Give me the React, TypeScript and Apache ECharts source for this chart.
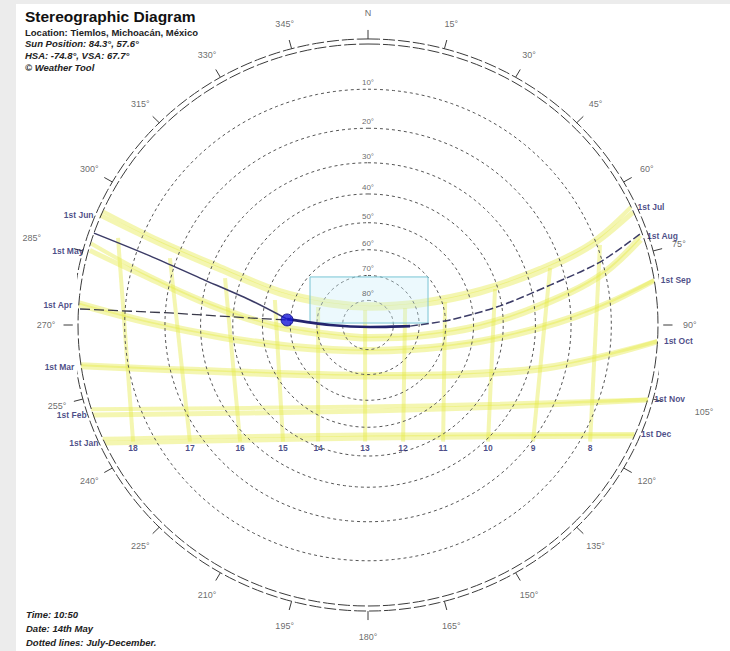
import React, { useEffect, useRef } from "react";
import * as echarts from "echarts";

// ---- data (diagram units: horizon radius = 1, north up, east right) ----
const altitudes = [10, 20, 30, 40, 50, 60, 70, 80];
const azimuths = [0, 15, 30, 45, 60, 75, 90, 105, 120, 135, 150, 165, 180, 195, 210, 225, 240, 255, 270, 285, 300, 315, 330, 345];
const azimuthLabels = ["N", "15°", "30°", "45°", "60°", "75°", "90°", "105°", "120°", "135°", "150°", "165°", "180°", "195°", "210°", "225°", "240°", "255°", "270°", "285°", "300°", "315°", "330°", "345°"];

// sun-path date lines (x, y)
const janPath = [[-0.907, -0.42], [0.007, -0.402], [0.917, -0.395]];
const febPath = [[-0.948, -0.32], [-0.407, -0.313], [0.007, -0.306], [0.455, -0.292], [0.966, -0.267]];
const marPath = [[-0.99, -0.149], [-0.579, -0.167], [0.007, -0.185], [0.593, -0.16], [0.997, -0.06]];
const aprPath = [[-0.997, 0.071], [-0.752, 0.004], [-0.51, -0.046], [-0.269, -0.082], [0.007, -0.096], [0.283, -0.078], [0.524, -0.032], [0.766, 0.046], [0.986, 0.157]];
const mayPath = [[-0.959, 0.265], [-0.752, 0.164], [-0.545, 0.068], [-0.338, -0.004], [-0.131, -0.039], [0.007, -0.05], [0.179, -0.043], [0.386, -0.007], [0.593, 0.064], [0.8, 0.171], [0.941, 0.302]];
const junPath = [[-0.924, 0.391], [-0.717, 0.288], [-0.51, 0.196], [-0.303, 0.11], [-0.131, 0.071], [0.007, 0.06], [0.179, 0.071], [0.386, 0.114], [0.593, 0.189], [0.766, 0.278], [0.914, 0.402]];
const julPath = [[-0.915, 0.405], [-0.717, 0.302], [-0.51, 0.21], [-0.303, 0.124], [-0.131, 0.085], [0.007, 0.074], [0.179, 0.085], [0.386, 0.128], [0.593, 0.203], [0.766, 0.292], [0.907, 0.42]];
const augPath = [[-0.955, 0.29], [-0.752, 0.175], [-0.545, 0.079], [-0.338, 0.007], [-0.131, -0.028], [0.007, -0.039], [0.179, -0.032], [0.386, 0.004], [0.593, 0.075], [0.8, 0.182], [0.94, 0.318]];
const sepPath = [[-0.995, 0.08], [-0.752, 0.014], [-0.51, -0.036], [-0.269, -0.07], [0.007, -0.085], [0.283, -0.068], [0.524, -0.022], [0.766, 0.056], [0.987, 0.16]];
const octPath = [[-0.99, -0.14], [-0.579, -0.157], [0.007, -0.174], [0.593, -0.149], [0.998, -0.057]];
const novPath = [[-0.955, -0.3], [-0.407, -0.295], [0.007, -0.29], [0.455, -0.28], [0.965, -0.265]];
const decPath = [[-0.915, -0.405], [0.007, -0.39], [0.919, -0.388]];
const dateNames = ["1st Jan", "1st Feb", "1st Mar", "1st Apr", "1st May", "1st Jun", "1st Jul", "1st Aug", "1st Sep", "1st Oct", "1st Nov", "1st Dec"];
const datePaths = [janPath, febPath, marPath, aprPath, mayPath, junPath, julPath, augPath, sepPath, octPath, novPath, decPath];

// hour lines
const hourLabels = ["18", "17", "16", "15", "14", "13", "12", "11", "10", "9", "8"];
const hourTop = [[-0.862, 0.31], [-0.683, 0.238], [-0.493, 0.167], [-0.321, 0.089], [-0.172, 0.064], [-0.01, 0.053], [0.128, 0.06], [0.266, 0.082], [0.438, 0.128], [0.628, 0.203], [0.8, 0.285]];
const hourBottom = [[-0.81, -0.415], [-0.614, -0.415], [-0.441, -0.415], [-0.293, -0.415], [-0.172, -0.415], [-0.01, -0.415], [0.121, -0.415], [0.259, -0.415], [0.414, -0.415], [0.569, -0.415], [0.766, -0.415]];

// current day path (14th May)
const todayBefore = [[-0.945, 0.327], [-0.752, 0.246], [-0.579, 0.167], [-0.407, 0.089], [-0.279, 0.021]];
const todayNoon = [[-0.279, 0.021], [-0.131, 0.0], [0.007, -0.007], [0.145, -0.004]];
const todayAfter = [[0.145, -0.004], [0.283, 0.018], [0.455, 0.068], [0.628, 0.142], [0.8, 0.224], [0.938, 0.324]];
const shadowLine = [[-0.993, 0.057], [-0.683, 0.043], [-0.407, 0.025], [-0.279, 0.018]];
const sunPosition = [[-0.279, 0.018]];
const overlayRect = [[-0.2, 0.171, 0.207, 0.007]];

const infoLines = ["Location: Tiemlos, Michoacán, México", "Sun Position: 84.3°, 57.6°", "HSA: -74.8°, VSA: 67.7°", "© Weather Tool"];
const footLines = ["Time: 10:50", "Date: 14th May", "Dotted lines: July-December."];

const FONT = "'Liberation Sans', Arial, sans-serif";
const rad = (d: number) => (d * Math.PI) / 180;
const circle = (r: number) => {
  const pts: number[][] = [];
  for (let a = 0; a <= 360; a += 2) pts.push([r * Math.sin(rad(a)), r * Math.cos(rad(a))]);
  return pts;
};
const altR = (alt: number) => Math.tan(rad((90 - alt) / 2));
// azimuth labels that would collide with a date label sit a little further out
const crowded = new Set([105, 285]);
const labelR = (az: number) => (crowded.has(az) ? 1.2 : 1.11);

export default function App() {
  const ref = useRef<HTMLDivElement>(null);
  useEffect(() => {
    if (!ref.current) return;
    const chart = echarts.init(ref.current, null, { renderer: "svg" });
    const series: any[] = [];
    const yellow = "rgba(228,234,70,0.42)";

    hourLabels.forEach((h, i) => {
      series.push({ type: "line", data: [hourTop[i], hourBottom[i]], symbol: "none", silent: true, clip: false,
        lineStyle: { color: yellow, width: 4 }, z: 1 });
    });
    datePaths.forEach((p, i) => {
      series.push({ type: "line", data: p, symbol: "none", smooth: 0.35, silent: true, clip: false,
        lineStyle: { color: yellow, width: i >= 6 ? 4 : 5 }, z: 1 });
    });
    altitudes.forEach((a) => {
      series.push({ type: "line", data: circle(altR(a)), symbol: "none", silent: true, clip: false,
        lineStyle: { color: "#555", width: 1, type: [3, 3] }, z: 2 });
    });
    [1, 1.018].forEach((r) => {
      series.push({ type: "line", data: circle(r), symbol: "none", silent: true, clip: false,
        lineStyle: { color: "#3a3a3a", width: 1, type: [12, 3] }, z: 2 });
    });
    series.push({
      type: "custom", z: 2, silent: true, clip: false,
      data: azimuths.map((a) => [Math.sin(rad(a)), Math.cos(rad(a))]),
      renderItem: (params: any, api: any) => {
        const sx = api.value(0), sy = api.value(1);
        const p1 = api.coord([sx * 1.018, sy * 1.018]);
        const p2 = api.coord([sx * 1.05, sy * 1.05]);
        return { type: "line", shape: { x1: p1[0], y1: p1[1], x2: p2[0], y2: p2[1] }, style: { stroke: "#3a3a3a", lineWidth: 1 } };
      },
    });
    series.push({
      type: "custom", z: 3, silent: true, clip: false, data: overlayRect,
      renderItem: (params: any, api: any) => {
        const a = api.coord([api.value(0), api.value(1)]);
        const b = api.coord([api.value(2), api.value(3)]);
        return { type: "rect", shape: { x: a[0], y: a[1], width: b[0] - a[0], height: b[1] - a[1] },
          style: { fill: "rgba(200,238,248,0.35)", stroke: "#78c4d4", lineWidth: 1 } };
      },
    });
    series.push({ type: "line", data: shadowLine, symbol: "none", silent: true, clip: false,
      lineStyle: { color: "#3a3a4a", width: 1.3, type: [10, 4] }, z: 4 });
    series.push({ type: "line", data: todayBefore, symbol: "none", smooth: 0.3, silent: true, clip: false,
      lineStyle: { color: "#3b3b66", width: 1.5 }, z: 4 });
    series.push({ type: "line", data: todayNoon, symbol: "none", smooth: 0.3, silent: true, clip: false,
      lineStyle: { color: "#24246e", width: 2.6 }, z: 4 });
    series.push({ type: "line", data: todayAfter, symbol: "none", smooth: 0.3, silent: true, clip: false,
      lineStyle: { color: "#3b3b66", width: 1.5, type: [8, 3] }, z: 4 });
    series.push({ type: "scatter", data: sunPosition, symbolSize: 12, silent: true, clip: false,
      itemStyle: { color: "#1616d8", borderColor: "#0a0a80", borderWidth: 1 }, z: 6 });

    const labelScatter = { type: "scatter", symbolSize: 1, silent: true, clip: false, z: 5, itemStyle: { color: "rgba(0,0,0,0)" } };
    // azimuth labels
    series.push({
      ...labelScatter,
      data: azimuths.map((a, i) => ({ value: [labelR(a) * Math.sin(rad(a)), labelR(a) * Math.cos(rad(a))], name: azimuthLabels[i] })),
      label: { show: true, position: "inside", formatter: "{b}", color: "#444", fontSize: 9, fontFamily: FONT },
    });
    // altitude labels
    series.push({
      ...labelScatter,
      data: altitudes.map((a) => ({ value: [0, altR(a)], name: a + "°" })),
      label: { show: true, position: "top", distance: 2, formatter: "{b}", color: "#444", fontSize: 8, fontFamily: FONT },
    });
    // date labels
    series.push({
      ...labelScatter,
      data: datePaths.map((p, i) => {
        const left = i < 6;
        const pt = left ? p[0] : p[p.length - 1];
        return { value: pt, name: dateNames[i], label: { position: left ? "left" : "right" } };
      }),
      label: { show: true, distance: 6, formatter: "{b}", color: "#1c1c6a", fontSize: 8.5, fontWeight: "bold", fontFamily: FONT },
    });
    // hour labels
    series.push({
      ...labelScatter,
      data: hourBottom.map((p, i) => ({ value: p, name: hourLabels[i] })),
      label: { show: true, position: "bottom", distance: 1, formatter: "{b}", color: "#1c1c6a", fontSize: 8.5, fontWeight: "bold", fontFamily: FONT },
    });

    const graphic: any[] = [
      { type: "rect", left: 0, top: 0, shape: { width: 16, height: 651 }, style: { fill: "#ececec" }, z: -1 },
      { type: "rect", left: 0, top: 0, shape: { width: 730, height: 4 }, style: { fill: "#ececec" }, z: -1 },
      { type: "text", left: 25, top: 8, style: { text: "Stereographic Diagram", font: `bold 15.5px ${FONT}`, fill: "#111" } },
    ];
    const infoTops = [27, 38, 50, 62];
    infoLines.forEach((t, i) => {
      graphic.push({ type: "text", left: 25, top: infoTops[i],
        style: { text: t, font: `${i === 0 ? "" : "italic "}bold 9.5px ${FONT}`, fill: "#222" } });
    });
    const footTops = [609, 623, 637];
    footLines.forEach((t, i) => {
      graphic.push({ type: "text", left: 26, top: footTops[i],
        style: { text: t, font: `italic bold 9.5px ${FONT}`, fill: "#222" } });
    });

    chart.setOption({
      animation: false,
      backgroundColor: "#ffffff",
      grid: { left: 78, right: 72, top: 44, bottom: 45 },
      xAxis: { type: "value", min: -1, max: 1, show: false },
      yAxis: { type: "value", min: -1, max: 1, show: false },
      series,
      graphic,
    });
    return () => chart.dispose();
  }, []);
  return <div ref={ref} style={{ position: "absolute", left: 0, top: 0, width: 730, height: 651 }} />;
}
